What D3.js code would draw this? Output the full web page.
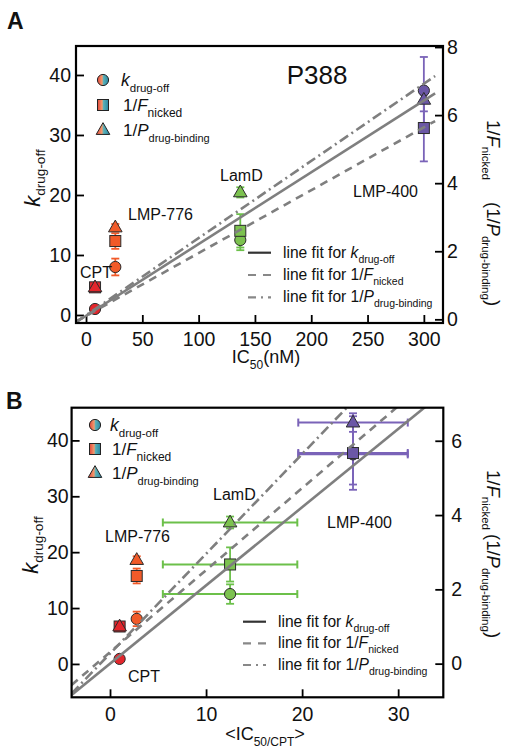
<!DOCTYPE html>
<html><head><meta charset="utf-8">
<script src="https://cdn.jsdelivr.net/npm/d3@7"></script>
<style>body{margin:0;background:#fff} svg{display:block}</style>
</head><body><svg id="c" width="511" height="751"></svg>
<script>
// ---------- data ----------
const drugs = ["CPT", "LMP-776", "LamD", "LMP-400"];
const drugColors = ["#e3262c", "#f15a29", "#7cc24f", "#6b57a6"];
const errColors  = ["#e3262c", "#f15a29", "#6cc04a", "#7a63b8"];

// Panel A : P388, x = IC50 (nM)
const ic50A     = [8, 26, 137, 300];
const kOffA     = [1.0, 8.0, 12.5, 37.4];
const kOffErrA  = [0.3, 1.4, 1.7, 5.6];
const invFA     = [0.94, 2.3, 2.6, 5.62];
const invFErrA  = [0, 0.23, 0.49, 0.98];
const invPA     = [0.94, 2.7, 3.73, 6.45];
const invPErrA  = [0, 0.1, 0.15, 0.34];
const fitSlopeA     = [0.1196, 0.01847, 0.02267];   // k, 1/F, 1/P
const fitInterceptA = [-0.13, 0.10, 0.12];
const fitRangeA     = [-9, 310];
const xTicksA = [0, 50, 100, 150, 200, 250, 300];
const yLTicksA = [0, 10, 20, 30, 40];
const yRTicksA = [0, 2, 4, 6, 8];

// Panel B : x = <IC50/CPT>
const icRelB     = [1, 2.78, 12.5, 25.3];
const icRelErrB  = [0, 0, 7.0, 5.7];
const kOffB      = [0.9, 8.06, 12.5, 37.5];
const kOffErrB   = [0.3, 1.3, 1.74, 5.4];
const invFB      = [1.0, 2.36, 2.67, 5.67];
const invFErrB   = [0, 0.2, 0.46, 0.99];
const invPB      = [1.0, 2.79, 3.8, 6.49];
const invPErrB   = [0, 0.1, 0.16, 0.25];
const fitSlopeB     = [1.40, 0.2207, 0.2686];
const fitInterceptB = [0.04, 0.31, 0.27];
const fitRangeB     = [-4, 35];
const xTicksB = [0, 10, 20, 30];
const yLTicksB = [0, 10, 20, 30, 40];
const yRTicksB = [0, 2, 4, 6];

// ---------- drawing ----------
const FONT = '"Liberation Sans", Arial, Helvetica, sans-serif';
const svg = d3.select("#c").attr("font-family", FONT);
const defs = svg.append("defs");
const grad = defs.append("linearGradient").attr("id", "legGrad");
[["0%", "#e0463a"], ["42%", "#f29a6e"], ["55%", "#58b0b8"], ["100%", "#2a86a0"]]
  .forEach(s => grad.append("stop").attr("offset", s[0]).attr("stop-color", s[1]));

function rich(g, x, y, parts, size, subSize, shift, opts = {}) {
  const t = g.append("text").attr("x", x).attr("y", y).attr("font-size", size)
    .attr("fill", "#111");
  if (opts.anchor) t.attr("text-anchor", opts.anchor);
  if (opts.rot !== undefined) t.attr("transform", `rotate(${opts.rot},${x},${y})`);
  let inSub = false;
  parts.forEach(p => {
    const s = t.append("tspan").text(p.t);
    if (p.i) s.attr("font-style", "italic");
    if (p.dx) s.attr("dx", p.dx);
    if (p.sub) {
      s.attr("font-size", subSize);
      if (!inSub) s.attr("dy", shift);
      inSub = true;
    } else {
      if (inSub) s.attr("dy", -shift);
      inSub = false;
    }
  });
  return t;
}

const triPath = d3.symbol().type(d3.symbolTriangle).size(80)();
function marker(g, type, cx, cy, fill, stroke) {
  if (type === "circle") {
    g.append("circle").attr("cx", cx).attr("cy", cy).attr("r", 5.6)
      .attr("fill", fill).attr("stroke", stroke).attr("stroke-width", 1);
  } else if (type === "square") {
    g.append("rect").attr("x", cx - 5.5).attr("y", cy - 5.5).attr("width", 11).attr("height", 11)
      .attr("fill", fill).attr("stroke", stroke).attr("stroke-width", 1);
  } else {
    g.append("path").attr("d", triPath).attr("transform", `translate(${cx},${cy + 0.5})`)
      .attr("fill", fill).attr("stroke", stroke).attr("stroke-width", 1);
  }
}

function drawPanel(c) {
  const g = svg.append("g");
  const [x0, x1] = c.x.range();
  const [y0, y1] = c.yL.range(); // y0 bottom, y1 top
  const clipId = "clip" + c.id;
  defs.append("clipPath").attr("id", clipId).append("rect")
    .attr("x", x0).attr("y", y1).attr("width", x1 - x0).attr("height", y0 - y1);

  // axes
  const styleAxis = (sel, size) => {
    sel.select(".domain").remove();
    sel.selectAll(".tick line").attr("stroke", "#000").attr("stroke-width", 1.8);
    sel.selectAll(".tick text").attr("font-size", size).attr("font-family", FONT).attr("fill", "#111");
  };
  g.append("g").attr("transform", `translate(${x0},0)`)
    .call(d3.axisLeft(c.yL).tickValues(c.yLTicks).tickSize(-8).tickPadding(c.padL))
    .call(s => styleAxis(s, c.tickFont));
  g.append("g").attr("transform", `translate(${x1},0)`)
    .call(d3.axisRight(c.yR).tickValues(c.yRTicks).tickSize(-8).tickPadding(c.padR))
    .call(s => styleAxis(s, c.tickFont));
  g.append("g").attr("transform", `translate(0,${y0})`)
    .call(d3.axisBottom(c.x).tickValues(c.xTicks).tickSize(-8).tickPadding(c.padB))
    .call(s => styleAxis(s, c.tickFont));

  const plot = g.append("g");
  const series = [
    { v: c.k, e: c.kErr, y: c.yL, type: "circle" },
    { v: c.f, e: c.fErr, y: c.yR, type: "square" },
    { v: c.p, e: c.pErr, y: c.yR, type: "triangle" }
  ];
  // error bars
  series.forEach(s => {
    drugs.forEach((d, i) => {
      const cx = c.x(c.xv[i]), cy = s.y(s.v[i]);
      const col = errColors[i];
      if (c.xErr && c.xErr[i] > 0) {
        const xa = c.x(c.xv[i] - c.xErr[i]), xb = c.x(c.xv[i] + c.xErr[i]);
        plot.append("line").attr("x1", xa).attr("x2", xb).attr("y1", cy).attr("y2", cy)
          .attr("stroke", col).attr("stroke-width", 2);
        [xa, xb].forEach(xx => plot.append("line").attr("x1", xx).attr("x2", xx)
          .attr("y1", cy - 4).attr("y2", cy + 4).attr("stroke", col).attr("stroke-width", 2));
      }
      if (s.e[i] > 0) {
        const ya = s.y(s.v[i] - s.e[i]), yb = s.y(s.v[i] + s.e[i]);
        plot.append("line").attr("x1", cx).attr("x2", cx).attr("y1", ya).attr("y2", yb)
          .attr("stroke", col).attr("stroke-width", 1.8);
        [ya, yb].forEach(yy => plot.append("line").attr("x1", cx - 4).attr("x2", cx + 4)
          .attr("y1", yy).attr("y2", yy).attr("stroke", col).attr("stroke-width", 1.8));
      }
    });
  });
  // markers
  series.forEach(s => {
    drugs.forEach((d, i) => {
      marker(plot, s.type, c.x(c.xv[i]), s.y(s.v[i]), drugColors[i], "#2b2b2b");
    });
  });
  // fit lines
  const dashes = [null, "8,6", "10,4,2,4"];
  const lines = g.append("g").attr("clip-path", `url(#${clipId})`);
  [c.yL, c.yR, c.yR].forEach((ys, j) => {
    const pts = c.fitRange.map(xx => [c.x(xx), ys(c.slope[j] * xx + c.inter[j])]);
    const l = lines.append("path").attr("d", d3.line()(pts)).attr("fill", "none")
      .attr("stroke", "#7f7f7f").attr("stroke-width", 2.6);
    if (dashes[j]) l.attr("stroke-dasharray", dashes[j]);
  });
  // frame
  g.append("rect").attr("x", x0).attr("y", y1).attr("width", x1 - x0).attr("height", y0 - y1)
    .attr("fill", "none").attr("stroke", "#000").attr("stroke-width", 2.2);

  // symbol legend
  const L = c.leg;
  marker(g, "circle", L.sx, L.rows[0] - 6, "url(#legGrad)", "#222");
  marker(g, "square", L.sx, L.rows[1] - 6, "url(#legGrad)", "#222");
  marker(g, "triangle", L.sx, L.rows[2] - 6, "url(#legGrad)", "#222");
  rich(g, L.tx, L.rows[0], [{ t: "k", i: 1 }, { t: "drug-off", sub: 1 }], 17.5, 11.5, 6);
  rich(g, L.tx + 2, L.rows[1], [{ t: "1/" }, { t: "F", i: 1 }, { t: "nicked", sub: 1 }], 17, 12, 6);
  rich(g, L.tx + 2, L.rows[2], [{ t: "1/" }, { t: "P", i: 1 }, { t: "drug-binding", sub: 1 }], 17, 11, 6);

  // fit legend
  const F = c.fit;
  const fitLbl = [
    [{ t: "line fit for " }, { t: "k", i: 1 }, { t: "drug-off", sub: 1 }],
    [{ t: "line fit for 1/" }, { t: "F", i: 1 }, { t: "nicked", sub: 1 }],
    [{ t: "line fit for 1/" }, { t: "P", i: 1 }, { t: "drug-binding", sub: 1 }]
  ];
  F.rows.forEach((ry, j) => {
    const l = g.append("line").attr("x1", F.lx).attr("x2", F.lx + 23).attr("y1", ry).attr("y2", ry)
      .attr("stroke", j === 0 ? "#333" : "#888").attr("stroke-width", 2.2);
    if (j === 1) l.attr("stroke-dasharray", "8,7");
    if (j === 2) l.attr("stroke-dasharray", "8,5,2,5");
    rich(g, F.tx, ry + 5, fitLbl[j], 15.6, 10.5, 5);
  });

  // drug labels
  c.labels.forEach(lb => g.append("text").attr("x", lb[1]).attr("y", lb[2]).attr("font-size", 16)
    .attr("fill", "#111").text(lb[0]));

  // axis titles
  rich(g, c.xTitle[0], c.xTitle[1], c.xTitleParts, 18, 12, 6, { anchor: "middle" });
  rich(g, c.yLTitle[0], c.yLTitle[1], [{ t: "k", i: 1 }, { t: "drug-off", sub: 1 }], 22, 13.5, 5,
    { anchor: "middle", rot: -90 });
  rich(g, c.yRTitle[0], c.yRTitle[1],
    [{ t: "1/" }, { t: "F", i: 1 }, { t: "nicked", sub: 1 }, { t: "(1/", dx: c.rGap },
     { t: "P", i: 1 }, { t: "drug-binding", sub: 1 }, { t: ")" }], 18.5, 11.5, 5,
    { anchor: "start", rot: 90 });
  // panel letter
  g.append("text").attr("x", c.letter[1]).attr("y", c.letter[2]).attr("font-size", 23)
    .attr("font-weight", "bold").attr("fill", "#111").text(c.letter[0]);
}

// Panel A
drawPanel({
  id: "A",
  x: d3.scaleLinear([-8.9, 317], [76, 443]),
  yL: d3.scaleLinear([-1.333, 44.83], [323, 46]),
  yR: d3.scaleLinear([-0.108, 8.03], [323, 46]),
  xTicks: xTicksA, yLTicks: yLTicksA, yRTicks: yRTicksA,
  padL: 5, padR: 4, padB: 9, tickFont: 19.5,
  xv: ic50A, xErr: null,
  k: kOffA, kErr: kOffErrA, f: invFA, fErr: invFErrA, p: invPA, pErr: invPErrA,
  slope: fitSlopeA, inter: fitInterceptA, fitRange: fitRangeA,
  leg: { sx: 103, tx: 121, rows: [86, 111, 136] },
  fit: { lx: 248, tx: 283, rows: [252.7, 275, 297.3] },
  labels: [["CPT", 80, 278], ["LMP-776", 128, 220], ["LamD", 220, 181], ["LMP-400", 353, 197]],
  xTitle: [266, 363], xTitleParts: [{ t: "IC" }, { t: "50", sub: 1 }, { t: "(nM)" }],
  yLTitle: [40, 178], yRTitle: [487, 120], rGap: 22,
  letter: ["A", 7, 29]
});
svg.append("text").attr("x", 317).attr("y", 84).attr("text-anchor", "middle")
  .attr("font-size", 26).attr("fill", "#111").text("P388");

// Panel B
drawPanel({
  id: "B",
  x: d3.scaleLinear([-4, 34.7], [71.6, 443.3]),
  yL: d3.scaleLinear([-5.97, 45.85], [697.3, 407.7]),
  yR: d3.scaleLinear([-0.906, 6.89], [697.3, 407.7]),
  xTicks: xTicksB, yLTicks: yLTicksB, yRTicks: yRTicksB,
  padL: 3, padR: 8, padB: 10, tickFont: 19.5,
  xv: icRelB, xErr: icRelErrB,
  k: kOffB, kErr: kOffErrB, f: invFB, fErr: invFErrB, p: invPB, pErr: invPErrB,
  slope: fitSlopeB, inter: fitInterceptB, fitRange: fitRangeB,
  leg: { sx: 95, tx: 110, rows: [431, 455, 479] },
  fit: { lx: 243, tx: 278, rows: [621.7, 643.3, 665] },
  labels: [["CPT", 128, 682], ["LMP-776", 105, 542], ["LamD", 213, 500], ["LMP-400", 327, 528]],
  xTitle: [265, 740], xTitleParts: [{ t: "<IC" }, { t: "50/CPT", sub: 1 }, { t: ">" }],
  yLTitle: [38, 545], yRTitle: [487, 470], rGap: 4,
  letter: ["B", 6, 409]
});
</script></body></html>
